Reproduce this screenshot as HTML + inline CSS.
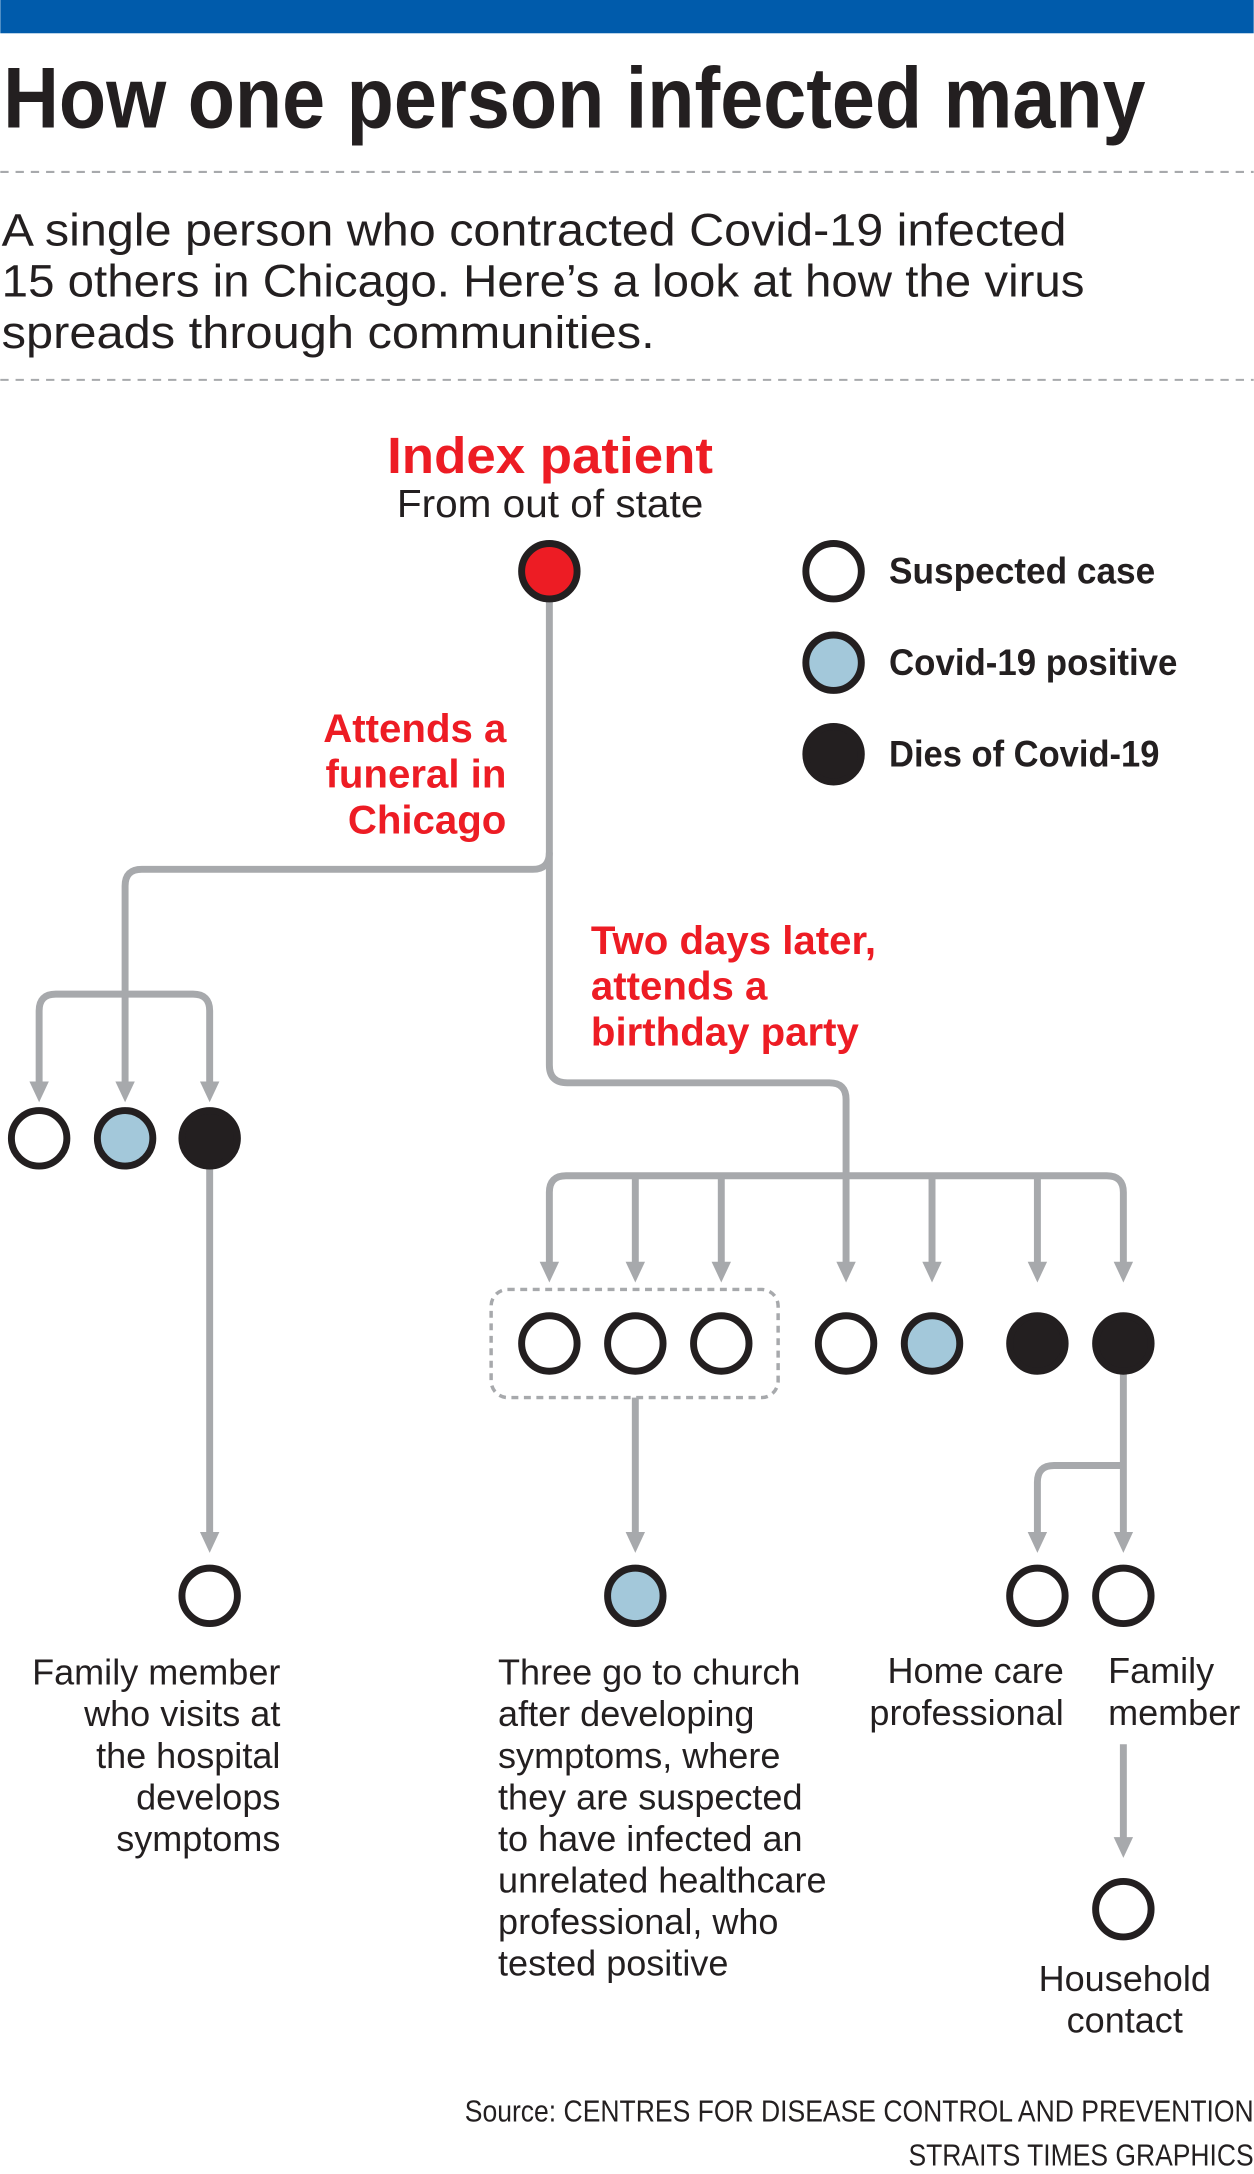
<!DOCTYPE html>
<html><head><meta charset="utf-8"><style>
html,body{margin:0;padding:0;background:#fff;}
svg{display:block;}
text{font-family:"Liberation Sans Narrow","Liberation Sans",sans-serif;fill:#231f20;}
.b{font-weight:bold;}
.r{fill:#ed1c24;}
</style></head><body>
<svg width="1254" height="2174" viewBox="0 0 904 1568" xmlns="http://www.w3.org/2000/svg">
<rect x="0" y="0" width="904" height="24" fill="#005bab"/>
<text x="2" y="92" font-size="62" class="b" textLength="824" lengthAdjust="spacingAndGlyphs">How one person infected many</text>
<line x1="0" y1="124" x2="904" y2="124" stroke="#a7a9ac" stroke-width="1.5" stroke-dasharray="6,5"/>
<text x="1" y="177" font-size="33" textLength="768" lengthAdjust="spacingAndGlyphs">A single person who contracted Covid-19 infected</text>
<text x="1" y="214" font-size="33" textLength="781" lengthAdjust="spacingAndGlyphs">15 others in Chicago. Here’s a look at how the virus</text>
<text x="1" y="251" font-size="33" textLength="471" lengthAdjust="spacingAndGlyphs">spreads through communities.</text>
<line x1="0" y1="274" x2="904" y2="274" stroke="#a7a9ac" stroke-width="1.5" stroke-dasharray="6,5"/>

<text x="279" y="341" font-size="37" class="b r" textLength="235" lengthAdjust="spacingAndGlyphs">Index patient</text>
<text x="286" y="373" font-size="28" textLength="221" lengthAdjust="spacingAndGlyphs">From out of state</text>

<g fill="none" stroke="#a7a9ac" stroke-width="5">
<path d="M396 433 V615 Q396 627 384 627 H102 Q90 627 90 639 V782"/>
<path d="M28 782 V729 Q28 717 40 717 H139 Q151 717 151 729 V782"/>
<path d="M396 615 V768 Q396 781 409 781 H598 Q610 781 610 793 V912"/>
<path d="M396 912 V860 Q396 848 408 848 H798 Q810 848 810 860 V912"/>
<path d="M458 848 V912 M520 848 V912 M672 848 V912 M748 848 V912"/>
<path d="M151 842 V1106"/>
<path d="M458 1008 V1106"/>
<path d="M810 990 V1106 M810 1057 H760 Q748 1057 748 1069 V1106"/>
<path d="M810 1258 V1326"/>
</g>
<g fill="#a7a9ac">
<polygon points="21,780 35,780 28,795"/>
<polygon points="83,780 97,780 90,795"/>
<polygon points="144,780 158,780 151,795"/>
<polygon points="389,910 403,910 396,925"/>
<polygon points="451,910 465,910 458,925"/>
<polygon points="513,910 527,910 520,925"/>
<polygon points="603,910 617,910 610,925"/>
<polygon points="665,910 679,910 672,925"/>
<polygon points="741,910 755,910 748,925"/>
<polygon points="803,910 817,910 810,925"/>
<polygon points="144,1105 158,1105 151,1120"/>
<polygon points="451,1105 465,1105 458,1120"/>
<polygon points="741,1105 755,1105 748,1120"/>
<polygon points="803,1105 817,1105 810,1120"/>
<polygon points="803,1325 817,1325 810,1340"/>
</g>
<rect x="354" y="930" width="207" height="78" rx="12" fill="none" stroke="#a7a9ac" stroke-width="2.5" stroke-dasharray="5,4"/>

<g stroke="#231f20" stroke-width="5">
<circle cx="396" cy="412" r="20" fill="#ed1c24"/>
<circle cx="601" cy="412" r="20" fill="#fff"/>
<circle cx="601" cy="478" r="20" fill="#a3c8da"/>
<circle cx="601" cy="544" r="20" fill="#231f20"/>
<circle cx="28" cy="821" r="20" fill="#fff"/>
<circle cx="90" cy="821" r="20" fill="#a3c8da"/>
<circle cx="151" cy="821" r="20" fill="#231f20"/>
<circle cx="396" cy="969" r="20" fill="#fff"/>
<circle cx="458" cy="969" r="20" fill="#fff"/>
<circle cx="520" cy="969" r="20" fill="#fff"/>
<circle cx="610" cy="969" r="20" fill="#fff"/>
<circle cx="672" cy="969" r="20" fill="#a3c8da"/>
<circle cx="748" cy="969" r="20" fill="#231f20"/>
<circle cx="810" cy="969" r="20" fill="#231f20"/>
<circle cx="151" cy="1151" r="20" fill="#fff"/>
<circle cx="458" cy="1151" r="20" fill="#a3c8da"/>
<circle cx="748" cy="1151" r="20" fill="#fff"/>
<circle cx="810" cy="1151" r="20" fill="#fff"/>
<circle cx="810" cy="1377" r="20" fill="#fff"/>
</g>

<text x="641" y="421" font-size="27" class="b" textLength="192" lengthAdjust="spacingAndGlyphs">Suspected case</text>
<text x="641" y="487" font-size="27" class="b" textLength="208" lengthAdjust="spacingAndGlyphs">Covid-19 positive</text>
<text x="641" y="553" font-size="27" class="b" textLength="195" lengthAdjust="spacingAndGlyphs">Dies of Covid-19</text>

<g font-size="29" class="b r" text-anchor="end">
<text x="365" y="535" class="b r">Attends a</text>
<text x="365" y="568" class="b r">funeral in</text>
<text x="365" y="601" class="b r">Chicago</text>
</g>
<text x="426" y="688" font-size="29" class="b r">Two days later,</text>
<text x="426" y="721" font-size="29" class="b r">attends a</text>
<text x="426" y="754" font-size="29" class="b r">birthday party</text>

<g font-size="26" text-anchor="end">
<text x="202" y="1215">Family member</text>
<text x="202" y="1245">who visits at</text>
<text x="202" y="1275">the hospital</text>
<text x="202" y="1305">develops</text>
<text x="202" y="1335">symptoms</text>
<text x="767" y="1214">Home care</text>
<text x="767" y="1244">professional</text>
</g>
<g font-size="26">
<text x="359" y="1215">Three go to church</text>
<text x="359" y="1245">after developing</text>
<text x="359" y="1275">symptoms, where</text>
<text x="359" y="1305">they are suspected</text>
<text x="359" y="1335">to have infected an</text>
<text x="359" y="1365">unrelated healthcare</text>
<text x="359" y="1395">professional, who</text>
<text x="359" y="1425">tested positive</text>
<text x="799" y="1214">Family</text>
<text x="799" y="1244">member</text>
</g>
<g font-size="26" text-anchor="middle">
<text x="811" y="1436">Household</text>
<text x="811" y="1466">contact</text>
</g>
<g font-size="22">
<text x="335" y="1530" textLength="569" lengthAdjust="spacingAndGlyphs">Source: CENTRES FOR DISEASE CONTROL AND PREVENTION</text>
<text x="655" y="1562" textLength="249" lengthAdjust="spacingAndGlyphs">STRAITS TIMES GRAPHICS</text>
</g>
</svg>
</body></html>
